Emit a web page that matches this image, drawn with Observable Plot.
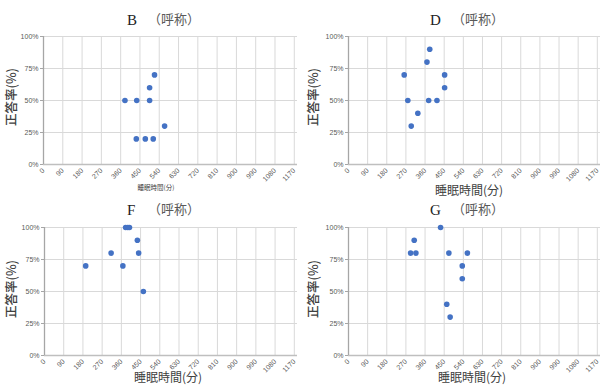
<!DOCTYPE html>
<html>
<head>
<meta charset="utf-8">
<script src="https://cdn.jsdelivr.net/npm/d3@7"></script>
<script src="https://cdn.jsdelivr.net/npm/@observablehq/plot@0.6"></script>
<style>
  html, body { margin: 0; padding: 0; background: #fff; }
  #wrap { position: relative; width: 601px; height: 385px; overflow: hidden; background: #fff; }
  .panel { position: absolute; }
  .panel svg { display: block; overflow: visible; }
  .t { position: absolute; white-space: nowrap; line-height: 1; }
  .letter { font-family: "Liberation Serif", "DejaVu Serif", serif; font-size: 15px; color: #222; }
  .yobi { font-family: "Noto Sans CJK JP", sans-serif; font-size: 13px; color: #595959; }
  .ylab { font-family: "Noto Sans CJK JP", sans-serif; font-size: 12.5px; color: #404040; font-weight: 500;
          transform-origin: center; transform: translate(-50%, -50%) rotate(-90deg); }
  .xlab { font-family: "Noto Sans CJK JP", sans-serif; font-size: 12px; color: #404040; transform: translateX(-50%); }
</style>
</head>
<body>
<div id="wrap"></div>
<script>
// ---- data ----
const panelNames = ["B", "D", "F", "G"];
const nameSuffix = "（呼称）";
const yTitle = "正答率(%)";
const xTitle = "睡眠時間(分)";
const xTicks = [0, 90, 180, 270, 360, 450, 540, 630, 720, 810, 900, 990, 1080, 1170];
const yTicks = [0, 0.25, 0.5, 0.75, 1];

const bSleep = [380, 435, 495, 495, 518, 433, 475, 512, 565];
const bRate  = [0.5, 0.5, 0.6, 0.5, 0.7, 0.2, 0.2, 0.2, 0.3];

const dSleep = [262, 279, 295, 326, 369, 382, 377, 416, 452, 452];
const dRate  = [0.7, 0.5, 0.3, 0.4, 0.8, 0.9, 0.5, 0.5, 0.7, 0.6];

const fSleep = [193, 312, 367, 380, 390, 398, 435, 441, 463];
const fRate  = [0.7, 0.8, 0.7, 1.0, 1.0, 1.0, 0.9, 0.8, 0.5];

const gSleep = [292, 317, 309, 433, 472, 559, 535, 535, 462, 478];
const gRate  = [0.8, 0.8, 0.9, 1.0, 0.8, 0.8, 0.7, 0.6, 0.4, 0.3];

const series = [[bSleep, bRate], [dSleep, dRate], [fSleep, fRate], [gSleep, gRate]];

// ---- layout ----
const layout = [
  {left: 0,   top: 0,   width: 300, height: 190, ml: 43, mr: 3, mt: 36, mb: 26},
  {left: 300, top: 0,   width: 301, height: 190, ml: 48, mr: 1, mt: 36, mb: 26},
  {left: 0,   top: 190, width: 300, height: 195, ml: 44, mr: 3, mt: 37, mb: 30},
  {left: 300, top: 190, width: 301, height: 195, ml: 48, mr: 1, mt: 37, mb: 30}
];

const wrap = document.getElementById("wrap");
function addText(cls, text, x, y) {
  const d = document.createElement("div");
  d.className = "t " + cls;
  d.textContent = text;
  d.style.left = x + "px";
  d.style.top = y + "px";
  wrap.appendChild(d);
  return d;
}

layout.forEach((L, i) => {
  const [xs, ys] = series[i];
  const rows = xs.map((x, k) => ({sleep: x, rate: ys[k]}));
  const chart = Plot.plot({
    width: L.width, height: L.height,
    marginLeft: L.ml, marginRight: L.mr, marginTop: L.mt, marginBottom: L.mb,
    style: {background: "transparent", fontFamily: "'Liberation Sans', Arial, sans-serif", overflow: "visible"},
    x: {domain: [0, 1185]},
    y: {domain: [0, 1]},
    marks: [
      Plot.gridX({ticks: xTicks, stroke: "#d9d9d9", strokeOpacity: 1}),
      Plot.gridY({ticks: yTicks, stroke: "#d9d9d9", strokeOpacity: 1}),
      Plot.ruleY([0], {stroke: "#bfbfbf", strokeWidth: 1.3}),
      Plot.ruleX([0], {stroke: "#a6a6a6", strokeWidth: 1.3}),
      Plot.axisX({ticks: xTicks, tickRotate: -45, tickSize: 0, tickPadding: 5, fontSize: 7,
                  fill: "#595959", label: null, tickFormat: d => String(d)}),
      Plot.axisY({ticks: yTicks, tickSize: 3, tickPadding: 2, fontSize: 7, fill: "#595959",
                  stroke: "#a6a6a6", label: null, tickFormat: d3.format(".0%")}),
      Plot.dot(rows, {x: "sleep", y: "rate", r: 2.8, fill: "#4472C4", stroke: "none"})
    ]
  });
  const holder = document.createElement("div");
  holder.className = "panel";
  holder.style.left = L.left + "px";
  holder.style.top = L.top + "px";
  holder.appendChild(chart);
  wrap.appendChild(holder);

  // titles
  addText("letter", panelNames[i], L.left + 127 + (i % 2 ? 3 : 0), L.top + 13);
  addText("yobi", nameSuffix, L.left + 148 + (i % 2 ? 4 : 0), L.top + 12);
  // y-axis title
  addText("ylab", yTitle, L.left + 11 + (i % 2 ? 2 : 0), L.top + 97 + (i >= 2 ? 2 : 0));
});

// x-axis titles
const bx = addText("xlab", xTitle, 156, 184); bx.style.fontSize = "6.5px";
addText("xlab", xTitle, 469, 184);
addText("xlab", xTitle, 168, 371);
addText("xlab", xTitle, 472, 371);
</script>
</body>
</html>
